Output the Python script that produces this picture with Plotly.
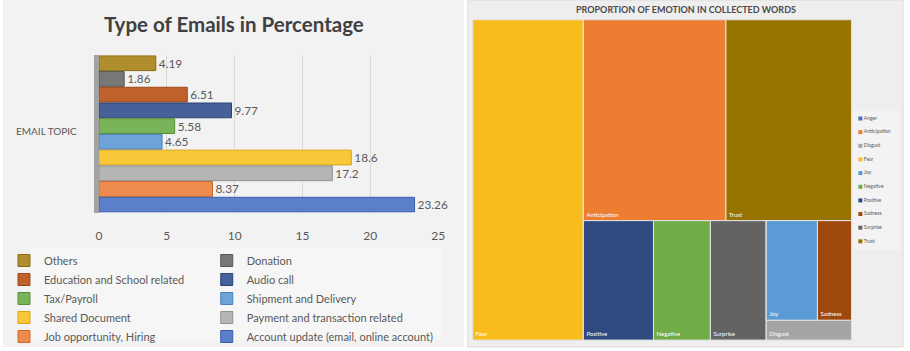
import plotly.graph_objects as go

# ---------------- data: left chart ----------------
email_topics = [
    "Others", "Donation", "Education and School related", "Audio call",
    "Tax/Payroll", "Shipment and Delivery", "Shared Document",
    "Payment and transaction related", "Job opportunity, Hiring",
    "Account update (email, online account)",
]
email_pct = [4.19, 1.86, 6.51, 9.77, 5.58, 4.65, 18.6, 17.2, 8.37, 23.26]
email_colors = ["#B08E2E", "#777777", "#C0612B", "#46609A", "#79B35A",
                "#6EA3D8", "#F9C73A", "#B5B5B5", "#EF8A4E", "#5B7FC9"]
email_edges = ["#8A6D12", "#555555", "#9A4818", "#2C4475", "#558E38",
               "#4A80B8", "#D9A514", "#919191", "#C96A2C", "#3A5CA8"]
x_ticks = [0, 5, 10, 15, 20, 25]

# ---------------- data: right chart ----------------
emotions = ["Anger", "Anticipation", "Disgust", "Fear", "Joy",
            "Negative", "Positive", "Sadness", "Surprise", "Trust"]
emotion_share = [0, 23.6, 1.4, 29.2, 4.2, 5.6, 6.9, 2.8, 5.5, 20.8]
emotion_colors = ["#4472C4", "#ED7D31", "#A5A5A5", "#F8BD1C", "#5B9BD5",
                  "#70AD47", "#2E4A7E", "#9E480E", "#636363", "#997300"]
# tiling hierarchy (group node -> parent)
tree = [
    ("root", ""), ("Fear", "root"), ("G1", "root"),
    ("G2", "G1"), ("Anticipation", "G2"), ("Trust", "G2"),
    ("G3", "G1"), ("Positive", "G3"), ("Negative", "G3"), ("Surprise", "G3"),
    ("G4", "G3"), ("G5", "G4"), ("Joy", "G5"), ("Sadness", "G5"),
    ("Disgust", "G4"),
]

W, H = 910, 351
px = lambda v: v / W
py = lambda v: 1 - v / H

fig = go.Figure()

# ---------------- left: bars ----------------
for i, (t, v) in enumerate(zip(email_topics, email_pct)):
    fig.add_trace(go.Bar(
        y=[t], x=[v], orientation="h", name=t,
        marker=dict(color=email_colors[i], line=dict(color=email_edges[i], width=1)),
        text=[f"{v:g}"], textposition="outside", cliponaxis=False,
        textfont=dict(family="Lato", size=12, color="#595959"),
        legend="legend" if i % 2 == 0 else "legend2",
        hoverinfo="skip",
    ))

# ---------------- right: treemap ----------------
share = dict(zip(emotions, emotion_share))
col = dict(zip(emotions, emotion_colors))
ids, parents, labels, values, colors, tmpl = [], [], [], [], [], []
for node, parent in tree:
    ids.append(node)
    parents.append(parent)
    if node in share:
        labels.append(node)
        values.append(share[node])
        colors.append(col[node])
        tmpl.append("%{label}")
    else:
        labels.append(" ")
        values.append(0)
        colors.append("#EEEEEE")
        tmpl.append(" ")

fig.add_trace(go.Treemap(
    ids=ids, parents=parents, labels=labels, values=values,
    branchvalues="remainder", sort=False,
    tiling=dict(packing="slice-dice", pad=0),
    marker=dict(colors=colors, pad=dict(t=0, l=0, r=0, b=0),
                line=dict(color="#E4E4E4", width=1), depthfade=False),
    texttemplate=tmpl, textposition="bottom left",
    textfont=dict(family="Lato", size=6, color="white"),
    pathbar=dict(visible=False), hoverinfo="skip",
    domain=dict(x=[px(475), px(858)], y=[py(344), py(20)]),
))

# ---------------- right: legend (drawn as markers) ----------------
fig.add_trace(go.Scatter(
    x=[0.15] * len(emotions), y=list(range(len(emotions))),
    mode="markers+text", text=emotions, textposition="middle right",
    marker=dict(symbol="square", size=4, color=emotion_colors),
    textfont=dict(family="Lato", size=5, color="#595959"),
    xaxis="x3", yaxis="y3", showlegend=False, hoverinfo="skip", cliponaxis=False,
))

shapes = [
    dict(type="rect", xref="paper", yref="paper", x0=0, x1=px(466), y0=0, y1=1,
         fillcolor="#F2F2F2", line=dict(width=0), layer="below"),
    dict(type="rect", xref="paper", yref="paper", x0=px(27), x1=px(443), y0=py(344), y1=py(250),
         fillcolor="#F6F6F6", line=dict(width=0), layer="below"),
    dict(type="rect", xref="paper", yref="paper", x0=px(470), x1=1, y0=0, y1=1,
         fillcolor="#EEEEEE", line=dict(color="#DADADA", width=1), layer="below"),
    dict(type="rect", xref="paper", yref="paper", x0=px(860), x1=px(907), y0=py(253), y1=py(112),
         fillcolor="#F3F3F3", line=dict(width=0), layer="below"),
]

annotations = [
    dict(text="<b>Type of Emails in Percentage</b>", x=px(234), y=py(24), xref="paper", yref="paper",
         xanchor="center", yanchor="middle",
         showarrow=False, font=dict(family="Lato", size=20.5, color="#404040")),
    dict(text="EMAIL TOPIC", x=px(77), y=py(133), xref="paper", yref="paper",
         xanchor="right", yanchor="middle",
         showarrow=False, font=dict(family="Lato", size=10, color="#595959")),
    dict(text="<b>PROPORTION OF EMOTION IN COLLECTED WORDS</b>", x=px(691), y=py(10),
         xref="paper", yref="paper", xanchor="center", yanchor="middle",
         showarrow=False, font=dict(family="Lato", size=9, color="#4A4A4A")),
]

legend_common = dict(
    xanchor="left", yanchor="top", orientation="v", bgcolor="rgba(0,0,0,0)",
    font=dict(family="Lato", size=11, color="#595959"), tracegroupgap=0,
    itemclick=False, itemdoubleclick=False,
)

fig.update_layout(
    width=W, height=H, margin=dict(l=0, r=0, t=0, b=0),
    paper_bgcolor="white", plot_bgcolor="rgba(0,0,0,0)",
    barmode="overlay", bargap=0.06,
    xaxis=dict(domain=[px(97), px(440)], range=[0, 25], tickvals=x_ticks,
               showgrid=True, gridcolor="#D9D9D9", gridwidth=1, zeroline=False,
               showline=False, ticks="", ticklabelstandoff=14,
               tickfont=dict(family="Lato", size=12, color="#595959"), fixedrange=True),
    yaxis=dict(domain=[py(215), py(56)], categoryorder="array", categoryarray=email_topics,
               autorange="reversed", showticklabels=False, showgrid=False,
               showline=True, linecolor="#A3A3A3", linewidth=5, layer="below traces",
               ticks="", fixedrange=True),
    xaxis3=dict(domain=[px(860), px(906)], range=[0, 1], visible=False, fixedrange=True),
    yaxis3=dict(domain=[py(251), py(113)], range=[9.5, -0.5], visible=False, fixedrange=True,
                anchor="x3"),
    legend=dict(x=px(1), y=py(249), **legend_common),
    legend2=dict(x=px(206), y=py(249), **legend_common),
    shapes=shapes, annotations=annotations,
)

fig.write_html("out.html")
